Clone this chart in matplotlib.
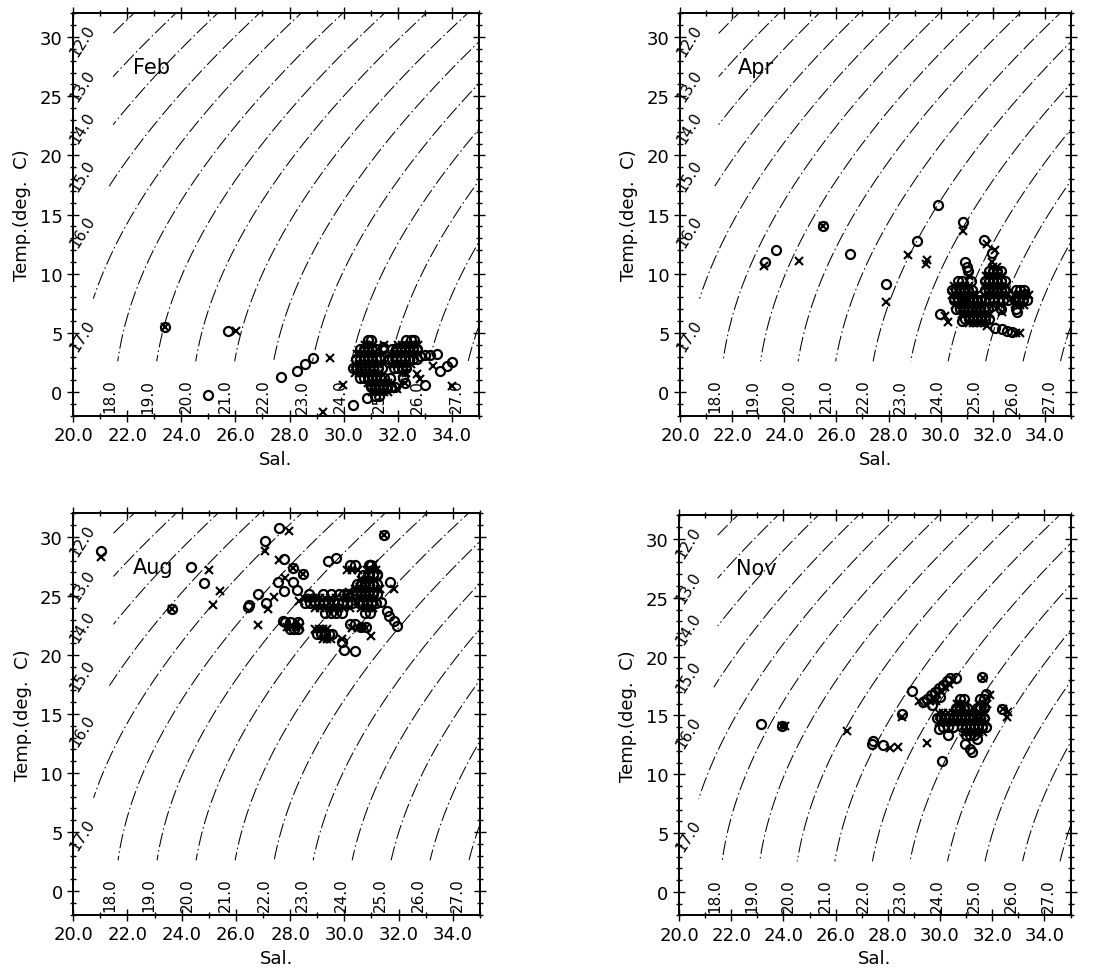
import numpy as np
import matplotlib.pyplot as plt

# isopycnal labels (sigma-t)
sigma_levels = [12.0, 13.0, 14.0, 15.0, 16.0, 17.0, 18.0, 19.0,
                20.0, 21.0, 22.0, 23.0, 24.0, 25.0, 26.0, 27.0]
left_levels = [12.0, 13.0, 14.0, 15.0, 16.0, 17.0]
left_label_temp = [29.7, 25.9, 22.4, 18.3, 13.6, 4.8]

x_ticks = [20, 22, 24, 26, 28, 30, 32, 34]
y_ticks = [0, 5, 10, 15, 20, 25, 30]
months = ["Feb", "Apr", "Aug", "Nov"]

# ---- Feb ----
feb_sal_o = [23.40, 25.71, 25.0, 27.68, 28.29, 28.57, 28.86, 30.36, 30.85, 33.0, 33.56, 33.8,
             33.99, 32.82, 33.0, 33.2, 33.44, 31.47, 32.2, 32.25,
             30.9, 31.0, 32.3, 32.5, 32.6,
             30.6, 30.75, 30.9, 31.05, 31.2, 31.45, 31.8, 31.95, 32.1, 32.25, 32.4, 32.55, 32.7,
             30.45, 30.6, 30.75, 30.9, 31.05, 31.2, 31.35, 31.65, 31.8, 31.95, 32.1, 32.25, 32.4,
             32.55, 32.7,
             30.35, 30.5, 30.65, 30.8, 30.95, 31.1, 31.25, 31.4, 31.85, 32.0, 32.15, 32.3,
             30.6, 30.75, 30.9, 31.05, 31.2, 31.35, 31.5, 31.7,
             31.0, 31.15, 31.3, 31.45, 31.6, 31.75, 31.9,
             31.15, 31.3]
feb_temp_o = [5.46, 5.13, -0.23, 1.30, 1.80, 2.37, 2.85, -1.1, -0.54, 0.6, 1.8, 2.22,
              2.51, 3.07, 3.1, 3.15, 3.21, 3.77, 1.2, 0.8,
              4.4, 4.4, 4.4, 4.4, 4.4,
              3.6, 3.6, 3.6, 3.6, 3.6, 3.6, 3.6, 3.6, 3.6, 3.6, 3.6, 3.6, 3.6,
              2.8, 2.8, 2.8, 2.8, 2.8, 2.8, 2.8, 2.8, 2.8, 2.8, 2.8, 2.8, 2.8,
              2.8, 2.8,
              2.0, 2.0, 2.0, 2.0, 2.0, 2.0, 2.0, 2.0, 2.0, 2.0, 2.0, 2.0,
              1.2, 1.2, 1.2, 1.2, 1.2, 1.2, 1.2, 1.2,
              0.4, 0.4, 0.4, 0.4, 0.4, 0.4, 0.4,
              -0.3, -0.3]
feb_sal_x = [23.40, 26.02, 29.49, 29.99, 29.25, 32.7, 32.82, 33.31, 33.99, 31.96,
             30.8, 30.95, 31.1, 31.5, 32.0, 32.15, 32.3, 32.45, 32.6, 32.75,
             30.5, 30.65, 30.8, 30.95, 31.1, 31.25, 31.7, 31.85, 32.0, 32.15, 32.3, 32.45, 32.6,
             32.75,
             30.4, 30.55, 30.7, 30.85, 31.0, 31.15, 31.3, 31.5, 31.75, 31.9, 32.05, 32.2, 32.35,
             32.5,
             30.4, 30.55, 30.7, 30.85, 31.0, 31.15, 31.3, 32.15, 32.3,
             30.9, 31.05, 31.2, 31.35, 31.5, 31.65, 31.8, 32.25,
             31.05, 31.2, 31.35, 31.5, 31.65]
feb_temp_x = [5.46, 5.13, 2.85, 0.59, -1.72, 1.52, 1.1, 2.22, 0.53, 0.25,
              4.0, 4.0, 4.0, 4.0, 4.0, 4.0, 4.0, 4.0, 4.0, 4.0,
              3.2, 3.2, 3.2, 3.2, 3.2, 3.2, 3.2, 3.2, 3.2, 3.2, 3.2, 3.2, 3.2,
              3.2,
              2.4, 2.4, 2.4, 2.4, 2.4, 2.4, 2.4, 2.4, 2.4, 2.4, 2.4, 2.4, 2.4,
              2.4,
              1.6, 1.6, 1.6, 1.6, 1.6, 1.6, 1.6, 1.6, 1.6,
              0.8, 0.8, 0.8, 0.8, 0.8, 0.8, 0.8, 0.8,
              0.0, 0.0, 0.0, 0.0, 0.0]

# ---- Apr ----
apr_sal_o = [23.26, 23.67, 25.5, 26.52, 27.9, 29.1, 29.88, 30.84, 29.97, 31.68, 31.98, 30.8,
             32.08, 32.34, 32.55, 32.75, 33.24, 32.92, 31.98, 30.93, 31.0,
             31.05, 31.85, 32.0, 32.15, 32.3,
             30.65, 30.8, 31.15, 31.7, 31.85, 32.0, 32.15, 32.3, 32.45,
             30.45, 30.6, 30.75, 30.9, 31.05, 31.2, 31.7, 31.85, 32.0, 32.15, 32.3, 32.45, 32.9,
             33.05, 33.2,
             30.5, 30.65, 30.8, 30.95, 31.1, 31.25, 31.4, 31.55, 31.7, 31.85, 32.0, 32.2, 32.4,
             32.6, 32.85, 33.0, 33.15, 33.3,
             30.6, 30.75, 30.9, 31.05, 31.2, 31.35, 31.5, 31.65, 31.8, 32.3, 32.9,
             30.95, 31.1, 31.25, 31.4, 31.55, 31.7, 31.85]
apr_temp_o = [10.96, 12.03, 14.0, 11.63, 9.1, 12.8, 15.8, 14.4, 6.59, 12.87, 11.75, 6.03,
              5.38, 5.3, 5.2, 5.1, 8.28, 6.73, 7.3, 10.96, 10.6,
              10.2, 10.2, 10.2, 10.2, 10.2,
              9.4, 9.4, 9.4, 9.4, 9.4, 9.4, 9.4, 9.4, 9.4,
              8.6, 8.6, 8.6, 8.6, 8.6, 8.6, 8.6, 8.6, 8.6, 8.6, 8.6, 8.6, 8.6,
              8.6, 8.6,
              7.8, 7.8, 7.8, 7.8, 7.8, 7.8, 7.8, 7.8, 7.8, 7.8, 7.8, 7.8, 7.8,
              7.8, 7.8, 7.8, 7.8, 7.8,
              7.0, 7.0, 7.0, 7.0, 7.0, 7.0, 7.0, 7.0, 7.0, 7.0, 7.0,
              6.2, 6.2, 6.2, 6.2, 6.2, 6.2, 6.2]
apr_sal_x = [23.22, 24.58, 25.5, 27.9, 28.76, 29.44, 29.49, 30.87, 30.17, 30.27, 31.77, 32.08,
             31.98, 33.04, 32.9, 31.77, 32.85, 32.72, 32.34,
             32.0, 32.15,
             31.1, 31.75, 31.9, 32.05, 32.2, 32.35,
             30.5, 30.65, 30.8, 30.95, 31.1, 31.75, 31.9, 32.05, 32.2, 32.35, 32.5,
             30.45, 30.6, 30.75, 30.9, 31.05, 31.2, 31.35, 31.65, 31.8, 31.95, 32.1, 32.25, 32.4,
             32.55, 32.8, 32.95, 33.1, 33.25, 33.4,
             30.55, 30.7, 30.85, 31.0, 31.15, 31.3, 31.45, 31.6, 31.75, 32.0, 32.3, 32.9, 33.05,
             33.2,
             30.8, 30.95, 31.1, 31.25, 31.4, 31.55, 31.7, 31.85,
             31.1, 31.25, 31.4, 31.55, 31.7]
apr_temp_x = [10.68, 11.1, 14.0, 7.58, 11.6, 10.8, 11.2, 13.58, 6.39, 5.89, 12.5, 12.03,
              10.96, 4.96, 5.0, 5.6, 7.44, 7.94, 6.73,
              10.6, 10.6,
              9.8, 9.8, 9.8, 9.8, 9.8, 9.8,
              9.0, 9.0, 9.0, 9.0, 9.0, 9.0, 9.0, 9.0, 9.0, 9.0, 9.0,
              8.2, 8.2, 8.2, 8.2, 8.2, 8.2, 8.2, 8.2, 8.2, 8.2, 8.2, 8.2, 8.2,
              8.2, 8.2, 8.2, 8.2, 8.2, 8.2,
              7.4, 7.4, 7.4, 7.4, 7.4, 7.4, 7.4, 7.4, 7.4, 7.4, 7.4, 7.4, 7.4,
              7.4,
              6.6, 6.6, 6.6, 6.6, 6.6, 6.6, 6.6, 6.6,
              5.8, 5.8, 5.8, 5.8, 5.8]

# ---- Aug ----
aug_sal_o = [21.04, 24.35, 23.64, 24.84, 26.5, 26.45, 26.8, 27.07, 27.1, 27.6, 27.76, 27.54,
             27.78, 28.09, 28.46, 28.09, 28.27, 29.38, 29.7, 29.93, 29.99, 30.39, 31.21, 31.48,
             31.7, 31.36, 31.58, 31.64, 31.83, 31.95, 30.6, 30.8, 27.75,
             28.7, 29.2, 29.5, 29.8, 30.0, 30.15,
             28.55, 28.75, 28.9, 29.05, 29.2, 29.4, 29.6, 29.75, 29.9, 30.1, 30.3,
             29.3, 29.5, 29.7, 29.9,
             30.2, 30.4, 30.9, 31.0,
             30.7, 30.9, 31.05, 31.2,
             30.45, 30.6, 30.75, 30.9, 31.05, 31.2,
             30.45, 30.6, 30.75, 30.9, 31.05, 31.2,
             30.55, 30.7, 30.85, 31.0, 31.15,
             30.75, 30.95,
             27.8, 28.0, 28.3, 28.0, 28.15, 28.3,
             29.0, 29.15, 29.3, 29.45, 29.55,
             30.2, 30.4]
aug_temp_o = [28.84, 27.49, 23.9, 26.07, 24.24, 24.1, 25.17, 29.63, 24.38, 30.73, 28.14, 26.16,
              25.42, 27.34, 26.86, 26.16, 25.5, 28.0, 28.19, 21.07, 20.45, 20.37, 26.86, 30.17,
              26.16, 24.46, 23.76, 23.33, 22.91, 22.49, 22.4, 22.4, 22.9,
              25.2, 25.2, 25.2, 25.2, 25.2, 25.2,
              24.4, 24.4, 24.4, 24.4, 24.4, 24.4, 24.4, 24.4, 24.4, 24.4, 24.4,
              23.6, 23.6, 23.6, 23.6,
              27.6, 27.6, 27.6, 27.6,
              26.8, 26.8, 26.8, 26.8,
              26.0, 26.0, 26.0, 26.0, 26.0, 26.0,
              25.2, 25.2, 25.2, 25.2, 25.2, 25.2,
              24.4, 24.4, 24.4, 24.4, 24.4,
              23.6, 23.6,
              22.8, 22.8, 22.8, 22.2, 22.2, 22.2,
              21.8, 21.8, 21.8, 21.8, 21.8,
              22.6, 22.6]
aug_sal_x = [21.04, 23.64, 25.02, 25.15, 25.42, 27.07, 26.8, 27.17, 27.41, 27.97, 27.6, 27.82,
             28.25, 28.33, 29.9, 30.97, 31.09, 31.48, 31.83, 30.17, 28.09, 28.46,
             28.5, 28.65, 28.8, 28.95, 29.1, 29.3, 29.5, 29.7, 29.9, 30.05, 30.2,
             28.9, 29.1, 29.3, 29.45, 29.6, 29.8, 30.0, 30.2,
             30.1, 30.3, 30.5, 30.85, 31.0, 31.15,
             30.6, 30.8, 30.95, 31.1,
             30.4, 30.55, 30.7, 30.85, 31.0, 31.15, 31.3,
             30.5, 30.65, 30.8, 30.95, 31.1,
             30.6, 30.75, 30.9, 31.05,
             27.9, 28.05, 28.2, 28.35,
             28.9, 29.05, 29.2, 29.35,
             29.2, 29.35, 29.5,
             30.3, 30.5, 30.65, 30.8]
aug_temp_x = [28.28, 23.9, 27.23, 24.27, 25.45, 28.79, 22.57, 23.9, 24.89, 30.48, 28.05, 26.5,
              22.77, 24.6, 21.4, 21.64, 27.7, 30.17, 25.6, 25.3, 27.34, 26.86,
              24.8, 24.8, 24.8, 24.8, 24.8, 24.8, 24.8, 24.8, 24.8, 24.8, 24.8,
              24.0, 24.0, 24.0, 24.0, 24.0, 24.0, 24.0, 24.0,
              27.2, 27.2, 27.2, 27.2, 27.2, 27.2,
              26.4, 26.4, 26.4, 26.4,
              25.6, 25.6, 25.6, 25.6, 25.6, 25.6, 25.6,
              24.8, 24.8, 24.8, 24.8, 24.8,
              24.0, 24.0, 24.0, 24.0,
              22.4, 22.4, 22.4, 22.4,
              22.2, 22.2, 22.2, 22.2,
              21.4, 21.4, 21.4,
              22.3, 22.3, 22.3, 22.3]

# ---- Nov ----
nov_sal_o = [23.14, 23.93, 27.38, 27.42, 27.83, 28.53, 28.91, 30.06, 30.32, 29.97, 30.96, 31.15,
             31.21, 31.4, 31.6, 31.76, 32.36,
             29.35, 29.5, 29.65, 29.8, 29.95, 30.1, 30.25, 30.4, 30.6, 29.7, 30.0,
             30.75, 30.9, 31.55, 31.7,
             30.6, 30.75, 30.9, 31.05, 31.4, 31.55, 31.7,
             29.9, 30.05, 30.2, 30.35, 30.5, 30.65, 30.8, 30.95, 31.1, 31.25, 31.4, 31.55, 31.7,
             30.1, 30.3, 30.5, 30.85, 31.0, 31.15, 31.3, 31.45, 31.6, 31.75,
             31.0, 31.15, 31.3]
nov_temp_o = [14.28, 14.08, 12.58, 12.86, 12.52, 15.1, 17.11, 11.16, 13.34, 13.85, 12.58, 12.15,
              11.87, 13.0, 18.3, 16.83, 15.55,
              16.1, 16.4, 16.7, 17.0, 17.3, 17.6, 17.9, 18.2, 18.2, 15.9, 16.6,
              16.4, 16.4, 16.4, 16.4,
              15.6, 15.6, 15.6, 15.6, 15.6, 15.6, 15.6,
              14.8, 14.8, 14.8, 14.8, 14.8, 14.8, 14.8, 14.8, 14.8, 14.8, 14.8, 14.8, 14.8,
              14.0, 14.0, 14.0, 14.0, 14.0, 14.0, 14.0, 14.0, 14.0, 14.0,
              13.3, 13.3, 13.3]
nov_sal_x = [23.93, 24.05, 26.45, 28.08, 28.4, 28.53, 29.49, 31.47, 31.63, 31.9, 32.43, 32.62,
             32.55, 29.2,
             29.45, 29.6, 29.75, 29.9, 30.05, 30.2, 30.35, 30.5, 29.85,
             30.65, 30.8, 30.95, 31.5, 31.65, 31.8,
             29.95, 30.1, 30.3, 30.5, 30.65, 30.8, 30.95, 31.1, 31.25, 31.4, 31.55, 31.7,
             29.95, 30.1, 30.25, 30.4, 30.55, 30.7, 30.85, 31.0, 31.15, 31.3, 31.45, 31.6, 31.75,
             30.9, 31.05, 31.2, 31.35, 31.5, 31.65]
nov_temp_x = [14.08, 14.08, 13.65, 12.21, 12.3, 14.85, 12.66, 13.43, 18.2, 16.7, 15.55, 15.27,
              14.84, 16.2,
              16.0, 16.2, 16.5, 16.8, 17.1, 17.4, 17.7, 18.0, 16.2,
              16.0, 16.0, 16.0, 16.0, 16.0, 16.0,
              15.2, 15.2, 15.2, 15.2, 15.2, 15.2, 15.2, 15.2, 15.2, 15.2, 15.2, 15.2,
              14.4, 14.4, 14.4, 14.4, 14.4, 14.4, 14.4, 14.4, 14.4, 14.4, 14.4, 14.4, 14.4,
              13.6, 13.6, 13.6, 13.6, 13.6, 13.6]

sal_o = [feb_sal_o, apr_sal_o, aug_sal_o, nov_sal_o]
temp_o = [feb_temp_o, apr_temp_o, aug_temp_o, nov_temp_o]
sal_x = [feb_sal_x, apr_sal_x, aug_sal_x, nov_sal_x]
temp_x = [feb_temp_x, apr_temp_x, aug_temp_x, nov_temp_x]


def sigma_t(S, T):
    # UNESCO EOS-80 at surface pressure
    rho_w = (999.842594 + 6.793952e-2 * T - 9.095290e-3 * T**2 + 1.001685e-4 * T**3
             - 1.120083e-6 * T**4 + 6.536332e-9 * T**5)
    b = 8.24493e-1 - 4.0899e-3 * T + 7.6438e-5 * T**2 - 8.2467e-7 * T**3 + 5.3875e-9 * T**4
    c = -5.72466e-3 + 1.0227e-4 * T - 1.6546e-6 * T**2
    return rho_w + b * S + c * S**1.5 + 4.8314e-4 * S**2 - 1000.0


def sigma_plot(S, T):
    # density scale of the original isopycnals is a bit stretched vs EOS-80
    return 0.871 * sigma_t(S, T) + 2.96


rects = [[0.0661, 0.5739, 0.3674, 0.4113],
         [0.6154, 0.5739, 0.3538, 0.4113],
         [0.0663, 0.0638, 0.3680, 0.4102],
         [0.6145, 0.0629, 0.3543, 0.4091]]

fig = plt.figure(figsize=(11.05, 9.78), dpi=100)

ss, tt = np.meshgrid(np.linspace(20.75, 35.3, 300), np.linspace(2.6, 32.5, 300))
sig = sigma_plot(ss, tt)
# leave room for the left-hand labels: lines start a bit further right up top
s_min = np.clip(20.75 + 0.068 * (tt - 9.0), 20.75, 21.45)
sig = np.where(ss < s_min, np.nan, sig)
s_line = np.linspace(15, 40, 2000)

for k in range(4):
    ax = fig.add_axes(rects[k])
    cs = ax.contour(ss, tt, sig, levels=sigma_levels, colors='k', linewidths=0.75)
    cs.set_linestyle((0, (14, 3, 1.5, 3)))

    for lev in sigma_levels:
        if lev in left_levels:
            tl = left_label_temp[left_levels.index(lev)]
            ax.text(20.35, tl, "%.1f" % lev, rotation=58, ha='center', va='center', fontsize=11)
        else:
            vals = sigma_plot(s_line, -0.3)
            sl = np.interp(lev, vals, s_line) - 0.2
            ax.text(sl, -0.3, "%.1f" % lev, rotation=90, ha='center', va='center', fontsize=11)

    ax.plot(sal_o[k], temp_o[k], 'o', ms=6.5, mfc='none', mec='k', mew=1.6)
    ax.plot(sal_x[k], temp_x[k], 'x', ms=6, mec='k', mew=1.5)

    ax.text(22.2, 27.5, months[k], fontsize=15, ha='left', va='center')

    ax.set_xlim(20, 35)
    ax.set_ylim(-2, 32)
    ax.set_xticks(x_ticks)
    ax.set_xticklabels(["%.1f" % v for v in x_ticks])
    ax.set_xticks(np.arange(20, 36, 1), minor=True)
    ax.set_yticks(y_ticks)
    ax.set_yticks(np.arange(-2, 33, 1), minor=True)
    ax.tick_params(which='both', direction='inout', top=True, right=True, labelsize=13, width=1)
    ax.tick_params(which='major', length=8)
    ax.tick_params(which='minor', length=5)
    for sp in ax.spines.values():
        sp.set_linewidth(1.4)
    ax.set_xlabel("Sal.", fontsize=13, labelpad=4)
    ax.set_ylabel("Temp.(deg.  C)", fontsize=13, labelpad=6)

fig.savefig("out.png", dpi=100)
